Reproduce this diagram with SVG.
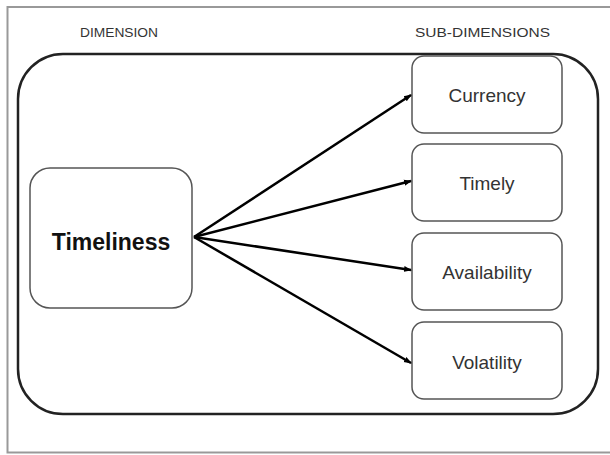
<svg xmlns="http://www.w3.org/2000/svg" width="610" height="455" viewBox="0 0 610 455">
<defs>
<marker id="ah" markerWidth="8" markerHeight="8" refX="7" refY="4" orient="auto" markerUnits="userSpaceOnUse">
<path d="M0,1 L8,4 L0,7 z" fill="#000"/>
</marker>
<style>
.sub{fill:#fff;stroke:#555;stroke-width:1.5}
.lbl{font-family:"Liberation Sans",Arial,sans-serif;font-size:19px;fill:#333;text-anchor:middle}
.hdr{font-family:"Liberation Sans",Arial,sans-serif;font-size:12.5px;fill:#333}
.conn line{stroke:#000;stroke-width:2.5;marker-end:url(#ah)}
</style>
</defs>
<rect width="610" height="455" fill="#fff"/>
<rect x="7.5" y="7" width="610" height="445.5" fill="none" stroke="#999" stroke-width="2"/>
<text class="hdr" x="80" y="37" textLength="78" lengthAdjust="spacingAndGlyphs">DIMENSION</text>
<text class="hdr" x="415" y="37" textLength="135" lengthAdjust="spacingAndGlyphs">SUB-DIMENSIONS</text>
<g id="container"><rect x="18" y="54" width="580" height="360" rx="45" fill="none" stroke="#222" stroke-width="2.5"/></g>
<g id="timeliness"><rect x="30" y="168" width="162" height="140" rx="20" class="sub"/><text x="111" y="250" class="lbl" style="font-size:23px;font-weight:bold;fill:#111">Timeliness</text></g>
<g id="currency"><rect x="412" y="56" width="150" height="77" rx="12" class="sub"/><text x="487" y="102" class="lbl">Currency</text></g>
<g id="timely"><rect x="412" y="144" width="150" height="77" rx="12" class="sub"/><text x="487" y="190" class="lbl">Timely</text></g>
<g id="availability"><rect x="412" y="233" width="150" height="77" rx="12" class="sub"/><text x="487" y="279" class="lbl">Availability</text></g>
<g id="volatility"><rect x="412" y="322" width="150" height="77" rx="12" class="sub"/><text x="487" y="369" class="lbl">Volatility</text></g>
<g class="conn">
<line x1="194" y1="237" x2="411" y2="95"/>
<line x1="194" y1="237" x2="411" y2="181"/>
<line x1="194" y1="237" x2="411" y2="270"/>
<line x1="194" y1="237" x2="411" y2="363"/>
</g>
</svg>
